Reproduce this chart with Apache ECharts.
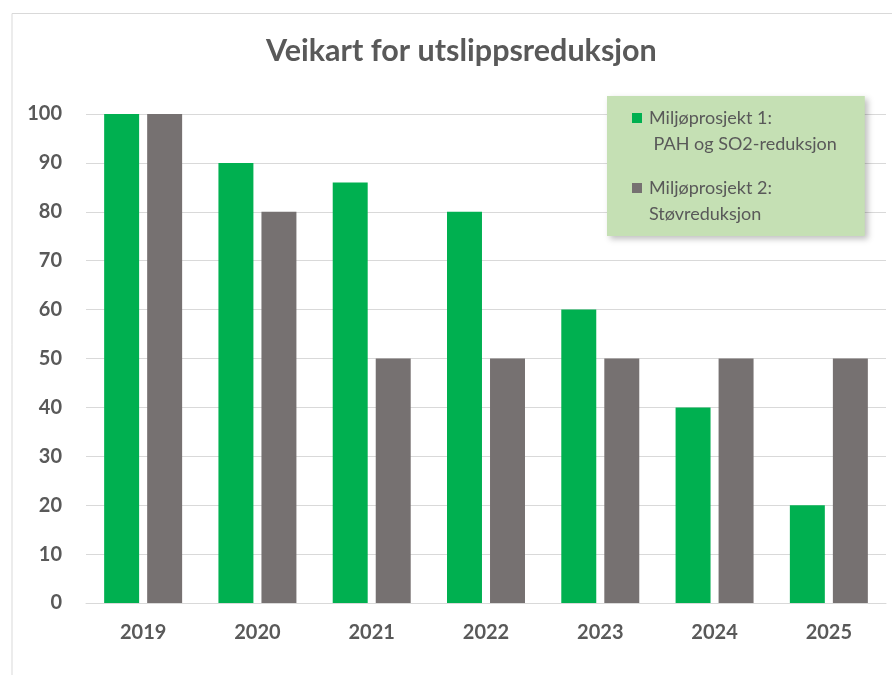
<!doctype html>
<html>
<head>
    <meta charset="UTF-8">
    <title>Veikart for utslippsreduksjon</title>
    <script src="https://cdn.jsdelivr.net/npm/echarts@6/dist/echarts.min.js"></script>
    <style>
        html, body { margin: 0; padding: 0; background: #fff; }
    </style>
</head>
<body>
<div id="main" style="width: 892px; height: 675px;"></div>
<script type="text/javascript">
    // data
    var years = ['2019', '2020', '2021', '2022', '2023', '2024', '2025'];
    var prosjekt1 = [100, 90, 86, 80, 60, 40, 20];
    var prosjekt2 = [100, 80, 50, 50, 50, 50, 50];
    var seriesNames = ['Miljøprosjekt 1:', 'Miljøprosjekt 2:'];
    var legendSecondLine = [' PAH og SO2-reduksjon', 'Støvreduksjon'];

    var textColor = '#595959';
    var font = 'Lato, "Open Sans", sans-serif';

    var myChart = echarts.init(document.getElementById('main'));
    var option = {
        backgroundColor: '#fff',
        animation: false,
        color: ['#00B050', '#767171'],
        title: {
            text: 'Veikart for utslippsreduksjon',
            left: 261,
            top: 31,
            textStyle: {
                color: textColor,
                fontFamily: font,
                fontSize: 30.5,
                fontWeight: 'bold'
            }
        },
        graphic: [{
            // chart frame, only left and top visible
            type: 'polyline',
            shape: { points: [[12, 675], [12, 13.5], [892, 13.5]] },
            style: { stroke: '#d9d9d9', lineWidth: 1, fill: null },
            z: -1
        }],
        legend: {
            orient: 'vertical',
            left: 607,
            top: 96,
            padding: [9, 28, 9, 20],
            itemGap: 18,
            itemWidth: 0,
            itemHeight: 0,
            backgroundColor: '#C5E0B4',
            shadowBlur: 6,
            shadowColor: 'rgba(0,0,0,0.25)',
            shadowOffsetX: 3,
            shadowOffsetY: 3,
            data: seriesNames,
            formatter: function (name) {
                var i = seriesNames.indexOf(name);
                var box = i === 0 ? 'g' : 'k';
                return '{' + box + '|}{gap|}' + name + '\n{ind|}' + legendSecondLine[i];
            },
            textStyle: {
                color: textColor,
                fontFamily: font,
                fontSize: 18,
                lineHeight: 26,
                rich: {
                    g: { width: 10, height: 10, backgroundColor: '#00B050' },
                    k: { width: 10, height: 10, backgroundColor: '#767171' },
                    gap: { width: 7 },
                    ind: { width: 17 }
                }
            }
        },
        grid: {
            left: 86,
            right: 6,
            top: 114,
            bottom: 72
        },
        xAxis: {
            type: 'category',
            data: years,
            axisTick: { show: false },
            axisLine: { lineStyle: { color: '#d9d9d9', width: 1 } },
            axisLabel: {
                color: textColor,
                fontFamily: font,
                fontSize: 20,
                fontWeight: 'bold',
                margin: 20
            }
        },
        yAxis: {
            type: 'value',
            min: 0,
            max: 100,
            interval: 10,
            axisLine: { show: false },
            axisTick: { show: false },
            splitLine: { lineStyle: { color: '#d9d9d9', width: 1 } },
            axisLabel: {
                color: textColor,
                fontFamily: font,
                fontSize: 20,
                fontWeight: 'bold',
                margin: 24
            }
        },
        series: [
            {
                name: seriesNames[0],
                type: 'bar',
                barWidth: '30.6%',
                barGap: '23%',
                data: prosjekt1
            },
            {
                name: seriesNames[1],
                type: 'bar',
                barWidth: '30.6%',
                barGap: '23%',
                data: prosjekt2
            }
        ]
    };
    myChart.setOption(option);
</script>
</body>
</html>
